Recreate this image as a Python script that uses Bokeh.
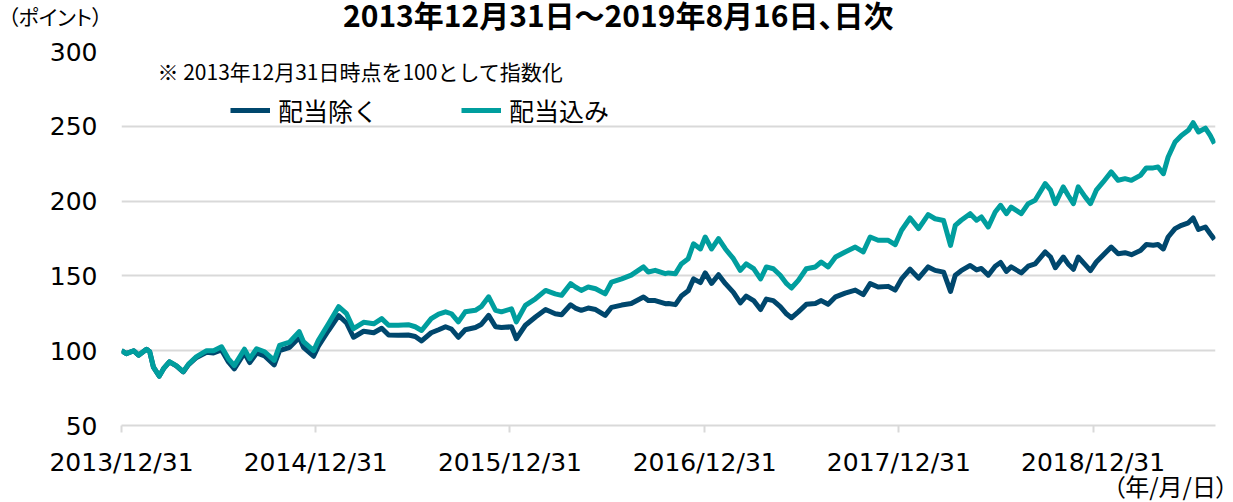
import datetime as dt
from bokeh.plotting import figure
from bokeh.layouts import column
from bokeh.models import Range1d, FixedTicker, DatetimeTickFormatter, Label, Legend, LegendItem, Div
from bokeh.embed import file_html
from bokeh.resources import INLINE

# ---------------- data ----------------
start_date = "2013-12-31"
end_date = "2019-08-16"
tick_dates = ["2013-12-31", "2014-12-31", "2015-12-31", "2016-12-31", "2017-12-31", "2018-12-31"]
series_names = ["配当除く", "配当込み"]
title_text = "2013年12月31日～2019年8月16日、日次"
y_unit_text = "（ポイント）"
x_unit_text = "（年/月/日）"
note_text = "※ 2013年12月31日時点を100として指数化"

# days elapsed since 2013-12-31
day_offsets = [
    0, 9, 23, 32, 47, 53, 60, 71, 79, 90, 103, 116, 126, 141, 160, 173, 188, 201, 212, 231,
    241, 254, 269, 287, 297, 316, 334, 342, 361, 370, 389, 408, 423, 436, 455, 474, 489, 502, 520, 539,
    552, 564, 582, 596, 609, 620, 633, 646, 665, 676, 690, 703, 714, 733, 742, 759, 778, 797, 815, 827,
    844, 853, 864, 877, 891, 909, 921, 940, 958, 981, 990, 1003, 1022, 1028, 1041, 1052, 1065, 1075, 1088, 1097,
    1109, 1122, 1135, 1150, 1163, 1174, 1188, 1201, 1212, 1225, 1238, 1250, 1259, 1272, 1287, 1304, 1315, 1328, 1342, 1360,
    1379, 1394, 1407, 1422, 1441, 1454, 1466, 1482, 1498, 1516, 1529, 1545, 1558, 1567, 1578, 1595, 1607, 1616, 1629, 1642,
    1652, 1663, 1672, 1691, 1704, 1717, 1736, 1746, 1755, 1770, 1779, 1789, 1798, 1811, 1821, 1832, 1845, 1860, 1873, 1886,
    1898, 1915, 1926, 1939, 1948, 1958, 1967, 1980, 1992, 2005, 2014, 2024, 2037, 2046, 2054,
]

# 配当除く (price index)
values_ex = [
    100, 98, 100, 97, 101, 99.3, 89, 83, 88, 92.5, 89.8, 85.8, 90.7, 95.5, 99, 98.5, 100.5, 92.5, 87.8, 98.5,
    92, 98.5, 96.5, 90.5, 100, 102.3, 108.8, 102.3, 96.3, 103, 113.5, 123.5, 118.5, 109, 113, 112, 115, 110.5, 110.3, 110.5,
    109.5, 106.5, 112, 114, 116, 114.5, 109, 114, 115.5, 117.5, 123.6, 116, 115.5, 116, 108, 117, 122.5, 127.5, 124.7, 124,
    130.7, 128.5, 127, 128.5, 127.5, 123.6, 129, 130.5, 131.5, 135.9, 133.5, 133.5, 131.4, 131.5, 130.8, 136.5, 140, 148, 145.5, 152,
    145, 150.8, 144.8, 139, 132, 136.5, 133.5, 127.5, 134.5, 133.5, 129.5, 124.5, 122, 126, 131, 131.5, 133.5, 131, 136, 138.5,
    140.5, 137.5, 144.8, 142.6, 143, 140.5, 148, 154.5, 148.5, 156, 153.7, 152.5, 139.6, 150.5, 153.5, 157, 154, 155, 150.5, 156.5,
    159, 153, 156, 152, 156.5, 158, 166, 162.6, 155.5, 162.6, 158, 154.4, 162.6, 157.5, 153.5, 159.3, 164, 169.3, 164.8, 165.5,
    164.2, 167, 171, 170.5, 171, 168, 176, 181.6, 183.8, 185.5, 188.7, 181, 182.7, 178.2, 174.4,
]

# 配当込み (total return index)
values_in = [
    100, 98, 100, 97, 101, 99.3, 89, 83, 88, 92.6, 90, 86, 91, 96, 100, 100, 102.6, 94.6, 90, 101,
    94.6, 101.3, 99.3, 93.5, 103.5, 105.8, 112.7, 106, 100, 107, 118, 129.4, 124.7, 114.7, 119, 118, 121.4, 117, 117, 117.4,
    116, 113.5, 121.4, 124.5, 126, 124.7, 119.3, 126, 127, 129.4, 136, 127, 126, 128, 119.3, 130.3, 134.7, 140.3, 138, 137,
    144.8, 142.6, 140.3, 142.6, 141.4, 138, 145.9, 148, 150.5, 156, 152.6, 153.7, 151.5, 152, 151.5, 158, 161.5, 171.5, 168, 176,
    168, 174.9, 168, 161.5, 153.7, 158, 154.8, 148, 156, 154.8, 150.4, 144.8, 141.9, 147, 154.8, 156, 159.3, 156, 162.6, 166,
    169.3, 166, 176, 173.8, 173.8, 170.9, 180.5, 188.7, 181.6, 191, 188.2, 187, 170.4, 183.8, 187.2, 191.6, 187.2, 189.4, 182.7, 192.7,
    197.2, 191.6, 196, 191.6, 198.3, 200.6, 211.7, 207.3, 198.3, 209.5, 203.9, 198.3, 209.5, 202.8, 198.3, 207.3, 212.8, 219.5, 213.9, 215,
    213.9, 217.2, 222.2, 222.2, 222.8, 218.3, 229.5, 239.5, 243.9, 247.3, 252.4, 246.2, 248.8, 243.9, 238.4,
]

# ---------------- style ----------------
JP = "Noto Sans CJK JP"
NUM = "DejaVu Sans"
DARK = "#00476D"
TEAL = "#009E9E"
GRID = "#D9D9D9"
W = 1223

# ---------------- top text row: title and y unit ----------------
top_html = (
    f"<div style=\"position:relative;width:{W}px;height:32px;font-family:'{JP}';color:#000;"
    "font-feature-settings:'palt';\">"
    f"<span style=\"position:absolute;left:343px;top:3px;font-size:30px;font-weight:bold;"
    f"line-height:22px;white-space:nowrap;\">{title_text}</span>"
    f"<span style=\"position:absolute;left:8px;top:6px;font-size:21px;"
    f"line-height:21px;white-space:nowrap;\">{y_unit_text}</span>"
    "</div>"
)
top = Div(text=top_html, width=W, height=32, margin=0, styles={"overflow": "visible"})

# ---------------- main chart ----------------
start = dt.datetime.fromisoformat(start_date)
dates = [start + dt.timedelta(days=d) for d in day_offsets]
x_end = dt.datetime.fromisoformat(end_date) + dt.timedelta(days=2)

p = figure(width=W, height=448, output_backend="svg", toolbar_location=None,
           x_axis_type="datetime",
           x_range=Range1d(start, x_end), y_range=Range1d(50, 300),
           min_border_left=121, min_border_right=8, min_border_top=19, min_border_bottom=55)
p.outline_line_color = None

epoch = dt.datetime(1970, 1, 1)
ticks_ms = [(dt.datetime.fromisoformat(t) - epoch).total_seconds() * 1000 for t in tick_dates]
p.xaxis.ticker = FixedTicker(ticks=ticks_ms)
fmt = "%Y/%m/%d"
p.xaxis.formatter = DatetimeTickFormatter(milliseconds=fmt, seconds=fmt, minsec=fmt, minutes=fmt,
                                          hourmin=fmt, hours=fmt, days=fmt, months=fmt, years=fmt)
p.xaxis.axis_line_color = GRID
p.xaxis.axis_line_width = 2
p.xaxis.major_tick_line_color = GRID
p.xaxis.major_tick_line_width = 2
p.xaxis.major_tick_in = 0
p.xaxis.major_tick_out = 7
p.xaxis.minor_tick_line_color = None
p.xaxis.major_label_standoff = 15
p.xaxis.major_label_text_font = NUM
p.xaxis.major_label_text_font_size = "25px"
p.xaxis.major_label_text_color = "#000000"

p.yaxis.ticker = FixedTicker(ticks=[50, 100, 150, 200, 250, 300])
p.yaxis.axis_line_color = None
p.yaxis.major_tick_line_color = None
p.yaxis.minor_tick_line_color = None
p.yaxis.major_tick_out = 0
p.yaxis.major_tick_in = 0
p.yaxis.major_label_standoff = 24
p.yaxis.major_label_text_font = NUM
p.yaxis.major_label_text_font_size = "25px"
p.yaxis.major_label_text_color = "#000000"

p.xgrid.grid_line_color = None
p.ygrid.grid_line_color = GRID
p.ygrid.grid_line_width = 2

r_ex = p.line(dates, values_ex, line_color=DARK, line_width=5, line_join="round")
r_in = p.line(dates, values_in, line_color=TEAL, line_width=5, line_join="round")

legend = Legend(items=[LegendItem(label=series_names[0], renderers=[r_ex]),
                       LegendItem(label=series_names[1], renderers=[r_in])],
                orientation="horizontal", location=(109, 297),
                glyph_width=40, glyph_height=20, label_standoff=8, spacing=83,
                padding=0, margin=0, border_line_color=None, background_fill_alpha=0,
                label_text_font=JP, label_text_font_size="25px", label_text_color="#000000")
p.add_layout(legend)


def px2x(px):
    return start + dt.timedelta(days=(px - 123) * (x_end - start).days / 1094)


def py2y(py):
    return 50 + (427 - py) * 250 / 374


p.add_layout(Label(x=px2x(159), y=py2y(72), text=note_text, text_align="left", text_baseline="middle",
                   text_font=JP, text_font_size="21px", text_color="#000000"))

# ---------------- bottom text row: x unit ----------------
bottom_html = (
    f"<div style=\"position:relative;width:{W}px;height:18px;font-family:'{JP}';color:#000;"
    "font-feature-settings:'palt';\">"
    f"<span style=\"position:absolute;right:-5px;top:-6px;font-size:24px;"
    f"line-height:24px;white-space:nowrap;\">{x_unit_text}</span>"
    "</div>"
)
bottom = Div(text=bottom_html, width=W, height=18, margin=0, styles={"overflow": "visible"})

layout = column(top, p, bottom, spacing=0)
open("out.html", "w").write(file_html(layout, INLINE))
